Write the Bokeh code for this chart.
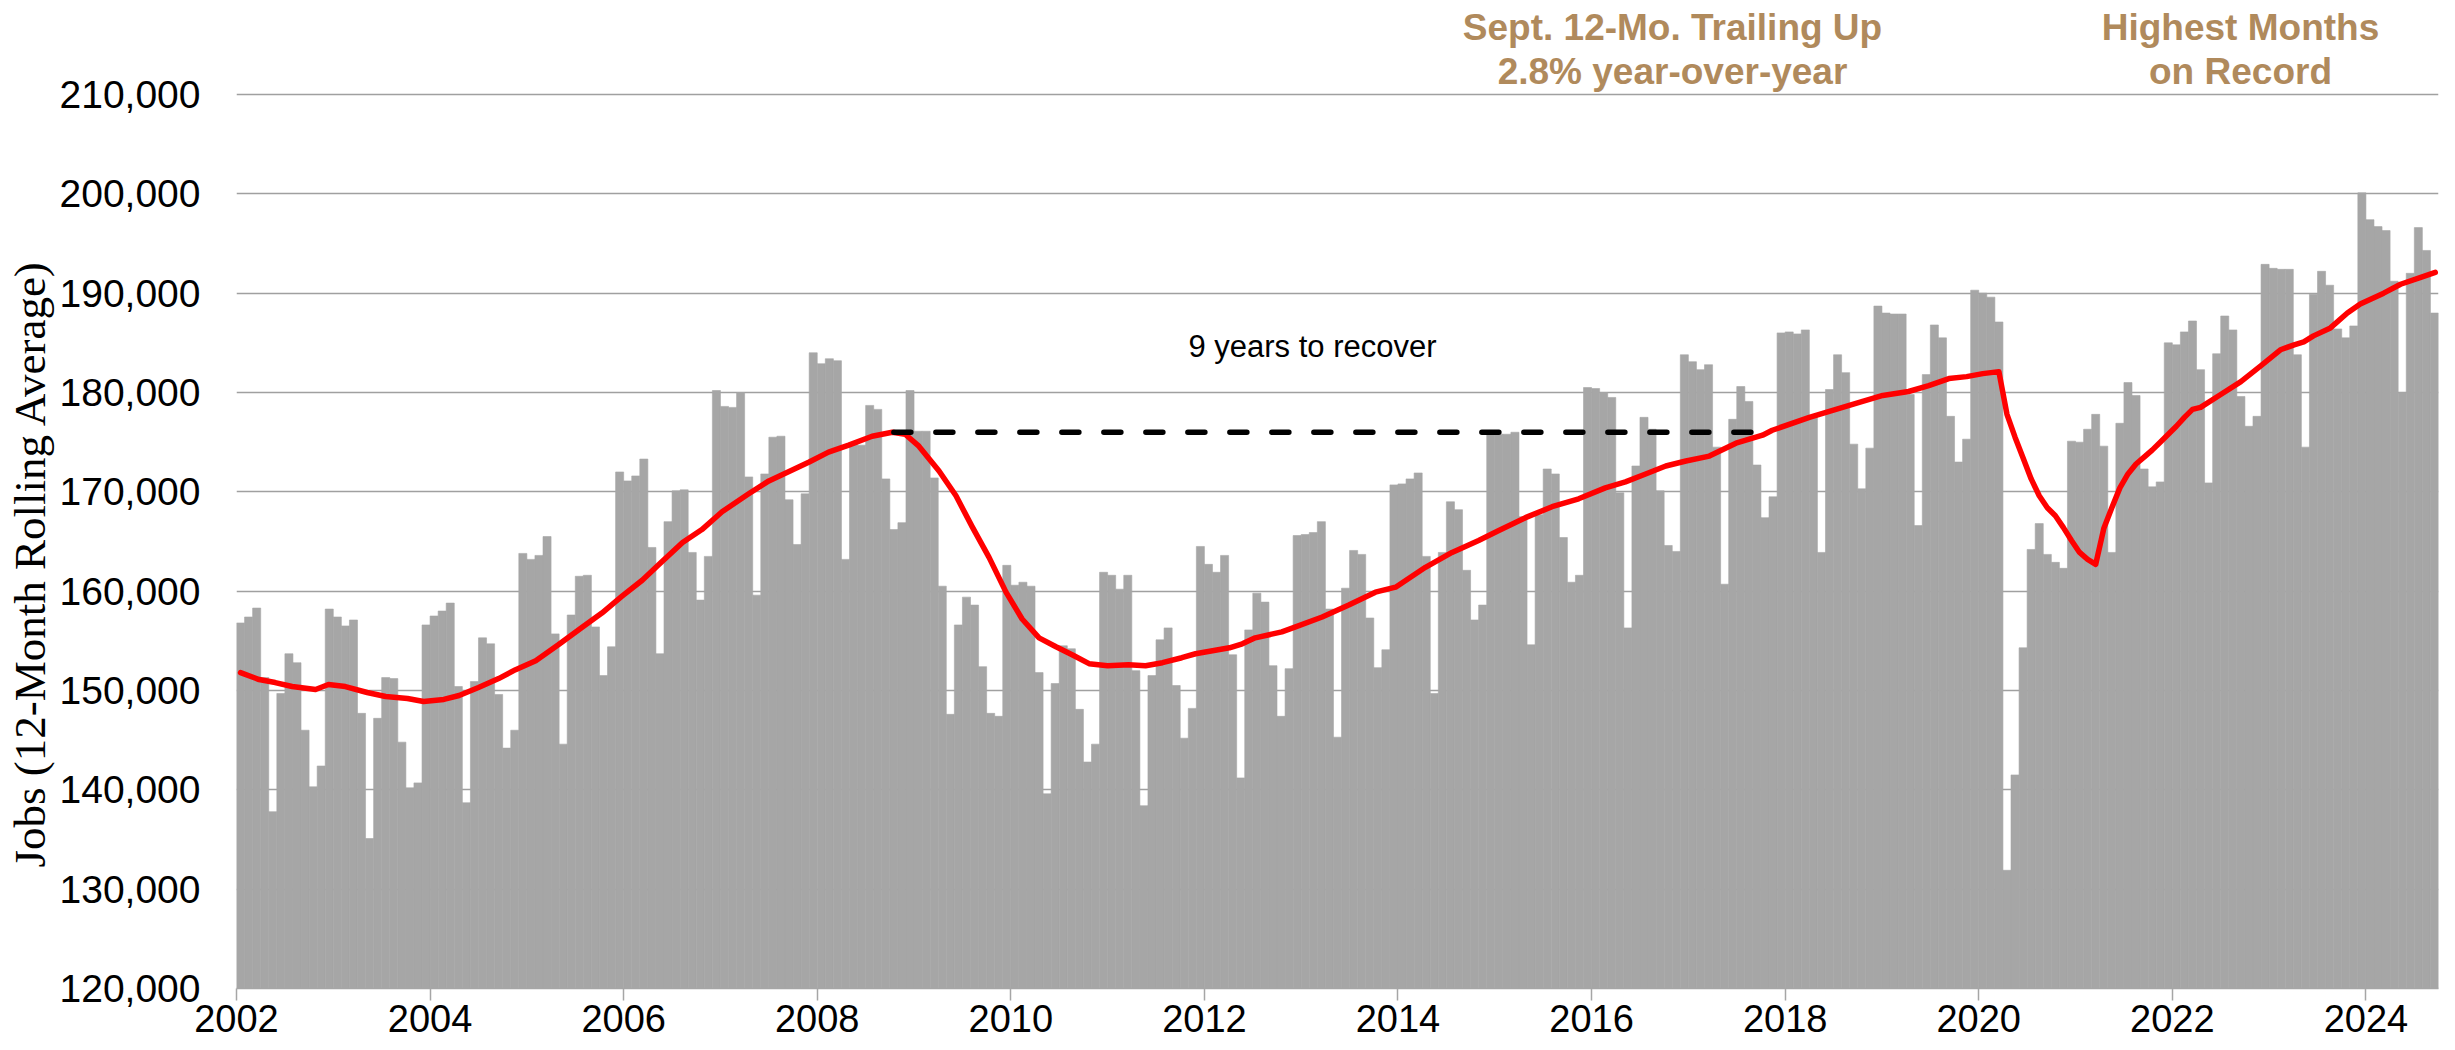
import math
from bokeh.plotting import figure
from bokeh.models import Range1d, FixedTicker, NumeralTickFormatter, Label, ColumnDataSource, Title
from bokeh.embed import file_html
from bokeh.resources import INLINE

# ---------------- data (jobs, thousands) ----------------
years = [str(y) for y in range(2002, 2025)]
jobs_2002 = [156.8, 157.4, 158.3, 151.3, 137.8, 149.7, 153.7, 152.8, 146.0, 140.3, 142.4, 158.2]
jobs_2003 = [157.4, 156.5, 157.1, 147.7, 135.1, 147.2, 151.3, 151.2, 144.8, 140.2, 140.7, 156.6]
jobs_2004 = [157.5, 158.0, 158.8, 150.4, 138.7, 150.9, 155.3, 154.7, 149.6, 144.2, 146.0, 163.8]
jobs_2005 = [163.2, 163.6, 165.5, 155.7, 144.6, 157.6, 161.5, 161.6, 156.4, 151.5, 154.4, 172.0]
jobs_2006 = [171.1, 171.6, 173.3, 164.4, 153.7, 167.0, 170.1, 170.2, 163.9, 159.1, 163.5, 180.2]
jobs_2007 = [178.6, 178.5, 180.0, 171.5, 159.6, 171.8, 175.5, 175.6, 169.2, 164.7, 169.8, 184.0]
jobs_2008 = [182.9, 183.4, 183.2, 163.2, 174.8, 174.7, 178.7, 178.3, 171.3, 166.2, 166.9, 180.2]
jobs_2009 = [176.1, 176.1, 171.4, 160.5, 147.6, 156.6, 159.4, 158.6, 152.4, 147.7, 147.4, 162.6]
jobs_2010 = [160.6, 160.9, 160.5, 151.8, 139.6, 150.7, 154.5, 154.2, 148.1, 142.8, 144.6, 161.9]
jobs_2011 = [161.6, 160.2, 161.6, 152.0, 138.4, 151.5, 155.1, 156.3, 150.5, 145.2, 148.2, 164.5]
jobs_2012 = [162.7, 161.9, 163.6, 153.6, 141.2, 156.1, 159.8, 158.9, 152.5, 147.4, 152.2, 165.6]
jobs_2013 = [165.7, 165.9, 167.0, 158.2, 145.3, 160.3, 164.1, 163.7, 157.3, 152.3, 154.1, 170.7]
jobs_2014 = [170.8, 171.3, 171.9, 163.5, 149.7, 163.9, 169.0, 168.2, 162.1, 157.1, 158.6, 176.1]
jobs_2015 = [175.8, 175.8, 176.0, 167.5, 154.6, 167.7, 172.3, 171.8, 165.4, 160.9, 161.6, 180.5]
jobs_2016 = [180.4, 180.0, 179.5, 169.9, 156.3, 172.6, 177.5, 176.3, 170.1, 164.6, 164.0, 183.8]
jobs_2017 = [183.1, 182.3, 182.8, 174.5, 160.7, 177.3, 180.6, 179.1, 172.7, 167.4, 169.5, 186.0]
jobs_2018 = [186.1, 185.9, 186.3, 177.5, 163.9, 180.3, 183.8, 182.0, 174.8, 170.3, 174.4, 188.7]
jobs_2019 = [188.0, 187.9, 187.9, 179.8, 166.6, 181.8, 186.8, 185.5, 177.6, 173.0, 175.3, 190.3]
jobs_2020 = [190.0, 189.6, 187.1, 131.9, 141.5, 154.3, 164.2, 166.8, 163.7, 162.9, 162.3, 175.1]
jobs_2021 = [175.0, 176.3, 177.8, 174.6, 163.9, 176.9, 181.0, 179.7, 172.3, 170.5, 171.0, 185.0]
jobs_2022 = [184.8, 186.1, 187.2, 182.3, 170.9, 183.9, 187.7, 186.3, 179.6, 176.6, 177.6, 192.9]
jobs_2023 = [192.5, 192.4, 192.4, 183.8, 174.5, 189.9, 192.2, 190.8, 186.4, 185.5, 186.7, 200.1]
jobs_2024 = [197.4, 196.7, 196.3, 191.2, 180.0, 192.0, 196.6, 194.3, 188.0]

# 12-month rolling average (red line): month position, value (thousands)
avg_month_pos = [0.5, 2.8, 4.8, 6.9, 9.8, 11.4, 13.5, 16.2, 18.5, 21.2, 23.2, 25.7, 27.6, 30.0,
                 32.5, 34.6, 37.1, 39.9, 42.9, 45.3, 47.8, 50.3, 52.4, 55.3, 57.7, 60.2, 63.5,
                 66.0, 68.9, 71.0, 73.4, 75.9, 78.8, 81.3, 82.9, 84.6, 87.1, 89.2, 91.2, 93.3,
                 95.4, 97.4, 99.5, 101.6, 103.6, 105.7, 108.0, 110.6, 112.7, 114.8, 117.2,
                 118.9, 123.1, 124.7, 126.3, 129.6, 131.3, 134.6, 137.9, 141.2, 143.7, 147.4,
                 150.7, 154.0, 156.5, 159.8, 163.1, 166.4, 169.7, 172.2, 174.7, 177.2, 179.7,
                 182.6, 185.9, 189.2, 190.4, 195.0, 198.3, 201.6, 204.1, 207.3, 209.8, 212.3,
                 214.5, 216.5, 218.5, 219.5, 220.5, 221.5, 222.5, 223.5, 224.5, 225.5, 226.5,
                 227.5, 228.5, 229.5, 230.5, 231.5, 232.5, 233.5, 234.5, 235.5, 236.5, 237.5,
                 238.5, 239.5, 240.5, 241.5, 242.5, 243.5, 246.0, 248.5, 251.0, 253.4, 255.1,
                 256.3, 257.5, 259.6, 261.7, 263.3, 266.2, 268.3, 270.8, 272.6]
avg_jobs = [151.8, 151.1, 150.8, 150.4, 150.1, 150.6, 150.4, 149.8, 149.4, 149.2, 148.9, 149.1,
            149.5, 150.3, 151.2, 152.1, 153.0, 154.6, 156.4, 157.8, 159.5, 161.1, 162.7, 164.9,
            166.2, 168.0, 169.8, 171.1, 172.2, 173.0, 174.0, 174.7, 175.6, 176.0, 175.8, 174.6,
            172.1, 169.6, 166.5, 163.4, 159.9, 157.2, 155.3, 154.4, 153.6, 152.7, 152.5, 152.6,
            152.5, 152.8, 153.3, 153.7, 154.3, 154.7, 155.3, 155.9, 156.4, 157.4, 158.6, 159.9,
            160.4, 162.4, 163.9, 165.1, 166.1, 167.4, 168.5, 169.3, 170.4, 171.0, 171.8, 172.6,
            173.1, 173.6, 174.9, 175.7, 176.2, 177.5, 178.3, 179.1, 179.7, 180.1, 180.7, 181.4,
            181.6, 181.9, 182.1, 177.8, 175.5, 173.4, 171.3, 169.6, 168.4, 167.6, 166.4, 165.1,
            163.9, 163.2, 162.7, 166.3, 168.4, 170.4, 171.8, 172.8, 173.5, 174.2, 175.0, 175.8,
            176.6, 177.5, 178.3, 178.5, 179.8, 181.1, 182.7, 184.3, 184.8, 185.1, 185.7, 186.5,
            188.0, 188.9, 190.0, 190.9, 191.6, 192.1]

recovery_level = 176000                    # pre-recession peak of the rolling average
recovery_from, recovery_to = 81.5, 187.8   # Oct 2008 -> Sep 2017 (month positions)

# ---------------- build ----------------
monthly = (jobs_2002 + jobs_2003 + jobs_2004 + jobs_2005 + jobs_2006 + jobs_2007 + jobs_2008 +
           jobs_2009 + jobs_2010 + jobs_2011 + jobs_2012 + jobs_2013 + jobs_2014 + jobs_2015 +
           jobs_2016 + jobs_2017 + jobs_2018 + jobs_2019 + jobs_2020 + jobs_2021 + jobs_2022 +
           jobs_2023 + jobs_2024)
n = len(monthly)
src = ColumnDataSource(dict(x=[i + 0.5 for i in range(n)], top=[v * 1000 for v in monthly]))

FW, FH = 2202, 980
Y0, Y1 = 120000, 218658
p = figure(frame_width=FW, frame_height=FH, output_backend="svg", toolbar_location=None,
           x_range=Range1d(0, n), y_range=Range1d(Y0, Y1),
           min_border_left=236, min_border_right=15, min_border_top=8, min_border_bottom=54)
p.outline_line_color = None
p.background_fill_color = "white"
p.border_fill_color = "white"

p.vbar(x="x", top="top", bottom=Y0, width=1.0, source=src,
       fill_color="#A6A6A6", line_color="#A6A6A6", line_width=0.6)

p.line(avg_month_pos, [v * 1000 for v in avg_jobs], line_color="#FF0000", line_width=5.5,
       line_join="round", line_cap="round")

p.line([recovery_from, recovery_to], [recovery_level, recovery_level], line_color="black",
       line_width=5.5, line_dash="17 25", line_cap="round")

# axes
p.xgrid.visible = False
p.ygrid.grid_line_color = "#A0A0A0"
p.ygrid.grid_line_width = 1.3
p.yaxis.ticker = FixedTicker(ticks=list(range(120000, 210001, 10000)))
p.yaxis.formatter = NumeralTickFormatter(format="0,0")
p.yaxis.axis_line_color = None
p.yaxis.major_tick_line_color = None
p.yaxis.minor_tick_line_color = None
p.yaxis.major_tick_out = 0
p.yaxis.major_tick_in = 0
p.yaxis.major_label_standoff = 36
p.yaxis.major_label_text_font = "Liberation Sans"
p.yaxis.major_label_text_font_size = "39px"
p.yaxis.major_label_text_color = "black"

p.xaxis.ticker = FixedTicker(ticks=[12 * i for i in range(0, len(years), 2)])
p.xaxis.major_label_overrides = {12 * i: years[i] for i in range(0, len(years), 2)}
p.xaxis.axis_line_color = "#A6A6A6"
p.xaxis.axis_line_width = 1.5
p.xaxis.major_tick_line_color = "#A6A6A6"
p.xaxis.major_tick_line_width = 1.5
p.xaxis.major_tick_out = 12
p.xaxis.major_tick_in = 0
p.xaxis.minor_tick_line_color = None
p.xaxis.major_label_standoff = 4
p.xaxis.major_label_text_font = "Liberation Sans"
p.xaxis.major_label_text_font_size = "38px"
p.xaxis.major_label_text_color = "black"

# y-axis title (left side panel, placed along the axis)
ytitle = Title(text="Jobs (12-Month Rolling Average)", align="left", offset=121,
               text_font="Liberation Serif", text_font_size="45px", text_font_style="normal",
               text_color="black", standoff=4)
p.add_layout(ytitle, "left")

PX = (Y1 - Y0) / FH      # data units per vertical pixel
MX = n / FW              # months per horizontal pixel

# annotations
brown = "#B08A5C"
for txt, cx, fy in [("Sept. 12-Mo. Trailing Up", 1436, 19), ("2.8% year-over-year", 1436, 63),
                    ("Highest Months", 2004, 19), ("on Record", 2004, 63)]:
    p.add_layout(Label(x=cx * MX, y=Y1 - fy * PX, text=txt, text_align="center",
                       text_baseline="alphabetic", text_font="Liberation Sans",
                       text_font_style="bold", text_font_size="37px", text_color=brown))

p.add_layout(Label(x=1076 * MX, y=Y1 - 338 * PX, text="9 years to recover", text_align="center",
                   text_baseline="middle", text_font="Liberation Sans", text_font_size="31px",
                   text_color="black"))

open("out.html", "w").write(file_html(p, INLINE))
